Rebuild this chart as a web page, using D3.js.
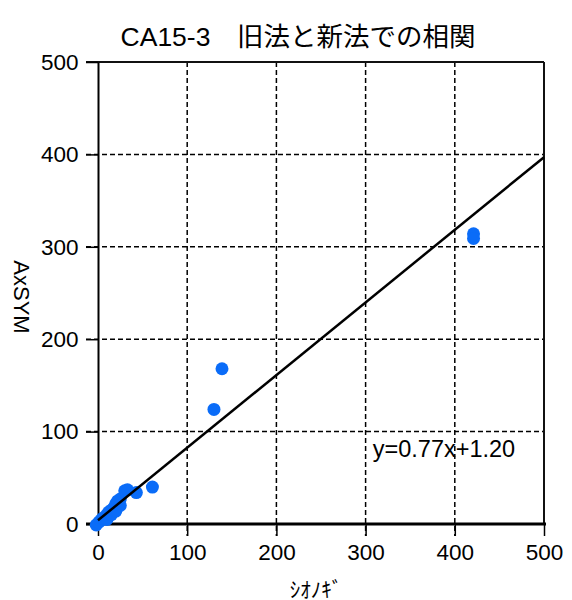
<!DOCTYPE html>
<html>
<head>
<meta charset="utf-8">
<script src="https://cdn.jsdelivr.net/npm/d3@7"></script>
<style>
  body { margin: 0; background: #fff; }
  text { font-family: "Liberation Sans", Arial, "Noto Sans CJK JP", sans-serif; }
</style>
</head>
<body>
<div id="chart"></div>
<script>
// Data
const xValues = [-2, 1, 3, 5, 8, 10, 12, 15, 18, 20, 22, 25, 10, 15, 20, 25, 30, 33, 43, 61, 130, 139, 421, 421];
const yValues = [-1, 2, 4, 6, 8, 10, 13, 15, 18, 22, 25, 27, 5, 10, 14, 20, 36, 37, 34, 40, 124, 168, 314, 309];
const fitX = [0, 500];
const fitY = [4, 397];
const tickValues = [0, 100, 200, 300, 400, 500];
const titleText = "CA15-3\u3000旧法と新法での相関";
const xLabel = "ｼｵﾉｷﾞ";
const yLabel = "AxSYM";
const equation = "y=0.77x+1.20";

const width = 572, height = 600;
const margin = { top: 62, right: 28, bottom: 76, left: 98 };
const w = width - margin.left - margin.right;
const h = height - margin.top - margin.bottom;

const svg = d3.select("#chart").append("svg")
    .attr("width", width)
    .attr("height", height);

const g = svg.append("g")
    .attr("transform", `translate(${margin.left},${margin.top})`);

const xScale = d3.scaleLinear().domain([0, 500]).range([0, w]);
const yScale = d3.scaleLinear().domain([0, 500]).range([h, 0]);

// Dashed grid
g.selectAll(".xGrid")
    .data(tickValues.slice(1, -1))
    .enter().append("line")
    .attr("x1", d => xScale(d)).attr("x2", d => xScale(d))
    .attr("y1", 0).attr("y2", h + 12)
    .attr("stroke", "#000").attr("stroke-width", 1.5)
    .attr("stroke-dasharray", "5,3");

g.selectAll(".yGrid")
    .data(tickValues.slice(1, -1))
    .enter().append("line")
    .attr("x1", -12).attr("x2", w)
    .attr("y1", d => yScale(d)).attr("y2", d => yScale(d))
    .attr("stroke", "#000").attr("stroke-width", 1.5)
    .attr("stroke-dasharray", "5,3");

// Top and right border
g.append("line")
    .attr("x1", -12).attr("x2", w).attr("y1", 0).attr("y2", 0)
    .attr("stroke", "#111").attr("stroke-width", 2);
g.append("line")
    .attr("x1", w).attr("x2", w).attr("y1", 0).attr("y2", h)
    .attr("stroke", "#111").attr("stroke-width", 2);

// Axes
const xAxis = g.append("g")
    .attr("transform", `translate(0,${h})`)
    .call(d3.axisBottom(xScale).tickValues(tickValues).tickSize(12).tickSizeOuter(0));
const yAxis = g.append("g")
    .call(d3.axisLeft(yScale).tickValues(tickValues).tickSize(12).tickSizeOuter(0));

[xAxis, yAxis].forEach(a => {
    a.selectAll("text").attr("font-size", 22.5).attr("fill", "#000")
        .attr("font-family", "'Liberation Sans', Arial, sans-serif");
    a.selectAll(".tick line").attr("stroke", "#000").attr("stroke-width", 1.5);
});
xAxis.select(".domain").attr("stroke", "#000").attr("stroke-width", 3)
    .attr("d", `M-12,0H${w + 2}`);
yAxis.select(".domain").attr("stroke", "#000").attr("stroke-width", 2);
xAxis.selectAll("text").attr("dy", "0.95em");
yAxis.selectAll("text").attr("dx", "-0.2em");

// Points
g.selectAll(".dot")
    .data(xValues.map((x, i) => [x, yValues[i]]))
    .enter().append("circle")
    .attr("cx", d => xScale(d[0]))
    .attr("cy", d => yScale(d[1]))
    .attr("r", 6.5)
    .attr("fill", "#0a6cf8");

// Regression line
const line = d3.line().x(d => xScale(d[0])).y(d => yScale(d[1]));
g.append("path")
    .datum(fitX.map((x, i) => [x, fitY[i]]))
    .attr("fill", "none")
    .attr("stroke", "#000")
    .attr("stroke-width", 2.5)
    .attr("d", line);

g.append("text")
    .attr("x", xScale(308)).attr("y", yScale(72))
    .attr("font-size", 23.5)
    .text(equation);

// Titles
svg.append("text")
    .attr("x", 298).attr("y", 46)
    .attr("text-anchor", "middle")
    .attr("font-size", 26.5)
    .attr("font-family", "'Liberation Sans', 'Noto Sans CJK JP', sans-serif")
    .text(titleText);

svg.append("text")
    .attr("x", 316).attr("y", 597)
    .attr("text-anchor", "middle")
    .attr("font-size", 21)
    .attr("font-family", "'Noto Sans CJK JP', sans-serif")
    .text(xLabel);

svg.append("text")
    .attr("transform", "translate(14,297) rotate(90)")
    .attr("text-anchor", "middle")
    .attr("font-size", 22)
    .text(yLabel);
</script>
</body>
</html>
